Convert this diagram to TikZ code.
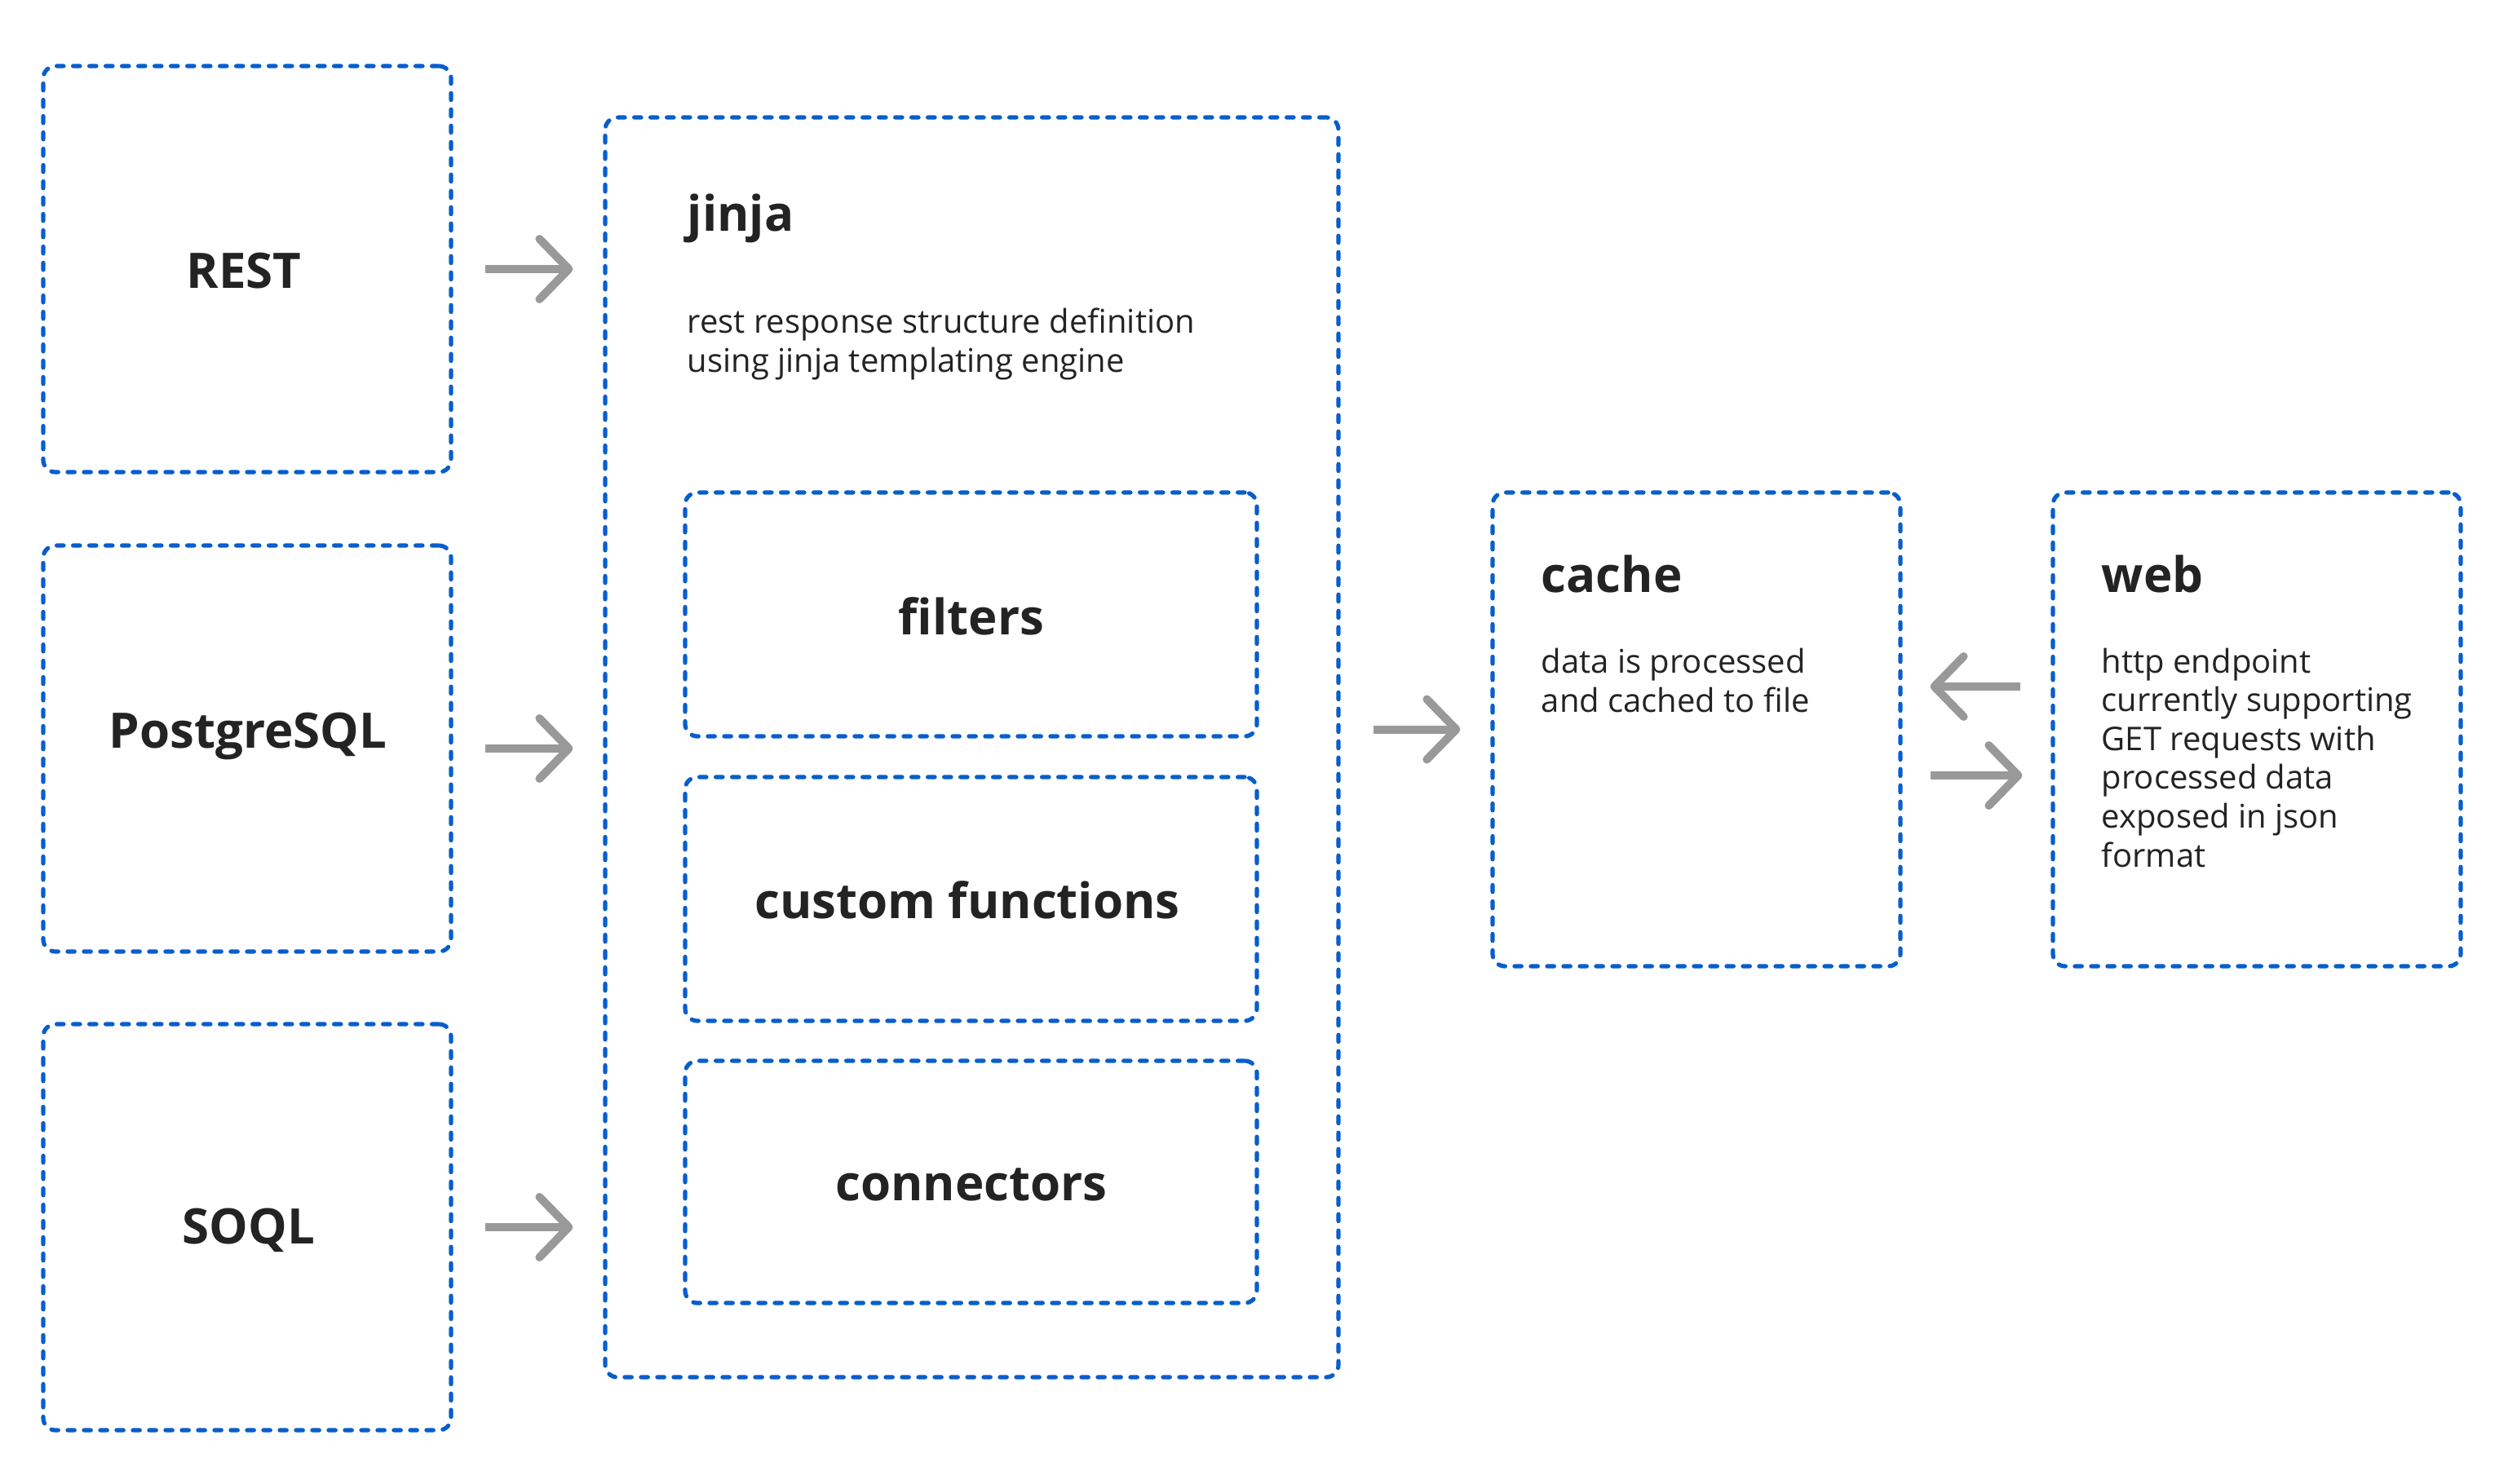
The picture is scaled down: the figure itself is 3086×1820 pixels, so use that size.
\documentclass[tikz,border=0pt]{standalone}
\usepackage{fontspec}
\setmainfont{Open Sans}
\usetikzlibrary{arrows.meta,calc}
\definecolor{boxblue}{RGB}{8,94,204}
\definecolor{arrgray}{RGB}{153,153,153}
\definecolor{txt}{RGB}{35,35,35}
\begin{document}
\begin{tikzpicture}[x=0.25pt,y=-0.25pt,
  dbox/.style={draw=boxblue, line width=1.3pt, dash pattern=on 2.1pt off 2.9pt, line cap=round,
    rounded corners=3.75pt, rectangle, inner sep=0pt, text=txt},
  bigtitle/.style={font=\fontsize{15}{18}\selectfont\bfseries, text=txt},
  body/.style={font=\fontsize{10}{11.9}\selectfont, text=txt, align=left, inner sep=0pt, anchor=base west},
  ttl/.style={font=\fontsize{15}{18}\selectfont\bfseries, text=txt, inner sep=0pt, anchor=base west},
  arr/.style={draw=arrgray, line width=2.5pt, -{Straight Barb[length=9pt,width=18.5pt,round]}}
]
\useasboundingbox (0,0) rectangle (3086,1820);
% source boxes
\node[dbox, minimum width=500*0.25pt, minimum height=498*0.25pt] (rest) at (303,330) {};
\node[dbox, minimum width=500*0.25pt, minimum height=498*0.25pt] (pg) at (303,918) {};
\node[dbox, minimum width=500*0.25pt, minimum height=498*0.25pt] (soql) at (303,1505) {};
\node[bigtitle] (restt) at (299,332) {REST};
\node[bigtitle] (pgt) at (304,903) {PostgreSQL};
\node[bigtitle] (soqlt) at (305,1509) {SOQL};
% jinja
\node[dbox, minimum width=899*0.25pt, minimum height=1545*0.25pt] (jinja) at (1191.5,916.5) {};
\node[ttl] (jt) at (842,283) {jinja};
\node[body] (jb) at (842,456) {rest response structure definition\\using jinja templating engine};
\node[dbox, minimum width=701*0.25pt, minimum height=299*0.25pt] (filters) at (1190.5,753.5) {};
\node[dbox, minimum width=701*0.25pt, minimum height=299*0.25pt] (custom) at (1190.5,1102.5) {};
\node[dbox, minimum width=701*0.25pt, minimum height=297*0.25pt] (conn) at (1190.5,1449.5) {};
\node[bigtitle] (ft) at (1191,756) {filters};
\node[bigtitle] (ct) at (1186,1104) {custom functions};
\node[bigtitle] (cot) at (1191,1453) {connectors};
% cache
\node[dbox, minimum width=500*0.25pt, minimum height=581*0.25pt] (cache) at (2080,894.5) {};
\node[ttl] (cat) at (1889,726) {cache};
\node[body] (cab) at (1889,873) {data is processed\\and cached to file};
% web
\node[dbox, minimum width=500*0.25pt, minimum height=581*0.25pt] (web) at (2767,894.5) {};
\node[ttl] (wt) at (2576,726) {web};
\node[body] (wb) at (2576,1063) {http endpoint\\currently supporting\\GET requests with\\processed data\\exposed in json\\format};
% arrows
\draw[arr, shorten <=9.75pt, shorten >=9.25pt] (rest.east) -- (rest.east -| jinja.west);
\draw[arr, shorten <=9.75pt, shorten >=9.25pt] (pg.east) -- (pg.east -| jinja.west);
\draw[arr, shorten <=9.75pt, shorten >=9.25pt] (soql.east) -- (soql.east -| jinja.west);
\draw[arr, shorten <=10pt, shorten >=9.25pt] (cache.west -| jinja.east) -- (cache.west);
\coordinate (la) at (0,842);
\coordinate (ra) at (0,951);
\draw[arr, shorten <=9.25pt, shorten >=8.5pt] (web.west |- la) -- (cache.east |- la);
\draw[arr, shorten <=8.5pt, shorten >=8.75pt] (cache.east |- ra) -- (web.west |- ra);
\end{tikzpicture}
\end{document}
